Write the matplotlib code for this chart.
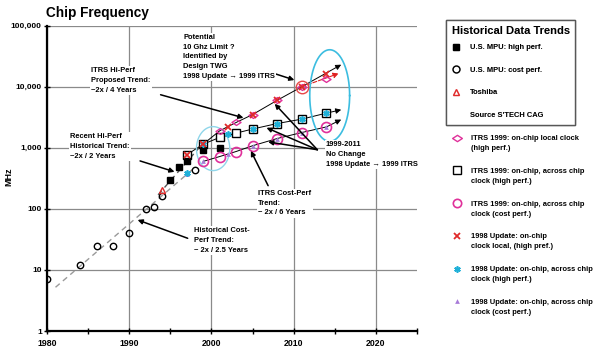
import numpy as np
import matplotlib
matplotlib.use("Agg")
import matplotlib.pyplot as plt
from matplotlib.lines import Line2D
from matplotlib.path import Path

plt.rcParams['font.family'] = ['Liberation Sans', 'DejaVu Sans']
plt.rcParams['font.weight'] = 'bold'

# ---------------- data ----------------
hist_high_year = [1995, 1996, 1997, 1999, 2001]
hist_high_mhz = [300, 490, 610, 930, 1000]
hist_cost_year = [1980, 1984, 1986, 1988, 1990, 1992, 1993, 1994, 1998]
hist_cost_mhz = [7, 12, 25, 25, 40, 99, 108, 165, 440]
toshiba_year = [1994]
toshiba_mhz = [200]

itrs_local_year = [2001, 2003, 2005, 2008, 2011, 2014]
itrs_local_mhz = [1900, 2600, 3500, 6000, 10000, 13400]
itrs_high_year = [1997, 1999, 2001, 2003, 2005, 2008, 2011, 2014]
itrs_high_mhz = [770, 1150, 1480, 1740, 2030, 2500, 2950, 3700]
itrs_cost_year = [1999, 2001, 2003, 2005, 2008, 2011, 2014]
itrs_cost_mhz = [600, 720, 870, 1080, 1420, 1780, 2200]

upd_local_year = [1997, 1999, 2002, 2005, 2008, 2011, 2014]
upd_local_mhz = [770, 1150, 2200, 3500, 6000, 10000, 16000]
upd_high_year = [1997, 1999, 2002, 2005, 2008, 2011, 2014]
upd_high_mhz = [390, 1150, 1670, 2030, 2500, 2950, 3700]
upd_cost_year = [1997, 1999, 2002, 2005, 2008, 2011, 2014]
upd_cost_mhz = [370, 600, 800, 1080, 1420, 1780, 2200]

# trend lines
hist_cost_trend_year = [1981, 1998]
hist_cost_trend_mhz = [5.2, 480]
hist_high_trend_year = [1993.5, 1999]
hist_high_trend_mhz = [170, 1200]
local_line_year = [1997, 1999, 2001, 2003, 2005, 2008, 2011]
local_line_mhz = [770, 1150, 1900, 2600, 3500, 6000, 10000]
local_arrow_end = (2015.8, 23000)
upd_local_arrow_end = (2015.5, 16500)
high_arrow_end = (2015.8, 4200)
cost_arrow_end = (2015.8, 2900)
limit_point = (2011, 10000)

x_ticks = [1980, 1990, 2000, 2010, 2020]
x_minor = [1985, 1995, 2005, 2015, 2025]
y_ticks = [1, 10, 100, 1000, 10000, 100000]
y_labels = ['1', '10', '100', '1,000', '10,000', '100,000']

# ---------------- figure ----------------
W, H = 600, 352
fig = plt.figure(figsize=(6.0, 3.52), dpi=100)
fig.patch.set_facecolor('white')
ax = fig.add_axes([47.3 / W, 1 - 331 / H, (416.7 - 47.3) / W, (331 - 25.7) / H])
ax.set_yscale('log')
ax.set_xlim(1980, 2025)
ax.set_ylim(1, 100000)
ax.set_xticks(x_ticks)
ax.set_xticklabels([str(t) for t in x_ticks], fontsize=6.3, fontweight='bold')
ax.set_xticks(x_minor, minor=True)
ax.set_yticks(y_ticks)
ax.set_yticklabels(y_labels, fontsize=6, fontweight='bold')
ax.yaxis.set_minor_locator(matplotlib.ticker.NullLocator())
ax.tick_params(axis='both', which='both', direction='inout', length=5, width=1, color='black', pad=3)
ax.tick_params(axis='y', pad=1.5)
ax.grid(True, which='major', color='#8a8a8a', lw=0.9)
for s in ['top', 'right']:
    ax.spines[s].set_visible(False)
for s in ['left', 'bottom']:
    ax.spines[s].set_linewidth(1.6)
ax.set_axisbelow(True)

fig.text(9 / W, 1 - 177 / H, 'MHz', fontsize=6.5, fontweight='bold', rotation=90, ha='center', va='center')
fig.text(46 / W, 1 - 13 / H, 'Chip Frequency', fontsize=9.8, fontweight='bold', va='center', ha='left')

# trend lines
ax.plot(hist_cost_trend_year, hist_cost_trend_mhz, color='#9a9a9a', lw=1, ls=(0, (4, 3)), zorder=2)
ax.plot(hist_high_trend_year, hist_high_trend_mhz, color='#555555', lw=1, ls=(0, (4, 3)), zorder=2)
ax.plot(local_line_year, local_line_mhz, color='black', lw=0.7, zorder=2)
ax.plot(itrs_high_year[1:], itrs_high_mhz[1:], color='black', lw=0.7, zorder=2)
ax.plot(itrs_cost_year, itrs_cost_mhz, color='black', lw=0.7, zorder=2)
ap = dict(arrowstyle='-|>', color='black', lw=0.7, mutation_scale=8, shrinkA=0, shrinkB=0)
ax.annotate('', xy=local_arrow_end, xytext=limit_point, arrowprops=ap, zorder=2)
ax.annotate('', xy=upd_local_arrow_end, xytext=limit_point,
            arrowprops=dict(arrowstyle='-|>', color='#e02020', lw=0.8, ls='--', mutation_scale=8,
                            shrinkA=0, shrinkB=0), zorder=2)
ax.annotate('', xy=high_arrow_end, xytext=(itrs_high_year[-1], itrs_high_mhz[-1]), arrowprops=ap)
ax.annotate('', xy=cost_arrow_end, xytext=(itrs_cost_year[-1], itrs_cost_mhz[-1]), arrowprops=ap)

# ellipses (in year / log10 space)
t = np.linspace(0, 2 * np.pi, 200)
ax.plot(2014.4 + 2.43 * np.cos(t), 10 ** (3.856 + 0.75 * np.sin(t)), color='#3cbde0', lw=1.2, zorder=3)
ax.plot(2000.2 + 2.03 * np.cos(t), 10 ** (2.987 + 0.36 * np.sin(t)), color='#8fd6ea', lw=1.0, zorder=3)

# markers
diamond = Path([(-1, 0), (0, 0.65), (1, 0), (0, -0.65), (-1, 0)],
               [Path.MOVETO, Path.LINETO, Path.LINETO, Path.LINETO, Path.CLOSEPOLY])
PINK = '#e0309a'
RED = '#e02a2a'
CYAN = '#1fb0d8'
PURP = '#a77ad8'

st_hist_high = dict(marker='s', ls='none', color='black', ms=3.8)
st_hist_cost = dict(marker='o', ls='none', mfc='none', mec='black', ms=4.6, mew=1.0)
st_tosh = dict(marker='^', ls='none', mfc='none', mec=RED, ms=4.8, mew=1.0)
st_local = dict(marker=diamond, ls='none', mfc='none', mec=PINK, ms=6.5, mew=1.0)
st_high = dict(marker='s', ls='none', mfc='white', mec='black', ms=6.2, mew=1.0)
st_cost = dict(marker='o', ls='none', mfc='none', mec=PINK, ms=7.2, mew=1.2)
st_ulocal = dict(marker='x', ls='none', color=RED, ms=3.8, mew=1.3)
st_uhigh = dict(marker=(6, 2, 0), ls='none', color=CYAN, ms=4.6, mew=1.2)
st_ucost = dict(marker='^', ls='none', color=PURP, ms=3.4, mew=0)

ax.plot(hist_cost_year, hist_cost_mhz, zorder=4, **st_hist_cost)
ax.plot(itrs_high_year, itrs_high_mhz, zorder=4, **st_high)
ax.plot(hist_high_year, hist_high_mhz, zorder=5, **st_hist_high)
ax.plot(toshiba_year, toshiba_mhz, zorder=5, **st_tosh)
ax.plot(itrs_cost_year, itrs_cost_mhz, zorder=5, **st_cost)
ax.plot(itrs_local_year, itrs_local_mhz, zorder=5, **st_local)
ax.plot(upd_cost_year, upd_cost_mhz, zorder=6, **st_ucost)
ax.plot(upd_high_year, upd_high_mhz, zorder=6, **st_uhigh)
ax.plot(upd_local_year, upd_local_mhz, zorder=6, **st_ulocal)
ax.plot([limit_point[0]], [limit_point[1]], marker='o', ms=9, mfc='none', mec='#e84848', mew=1.0, zorder=7)

# annotations
FS = 5.4
bb = dict(facecolor='white', edgecolor='none', pad=1.0)


def ftext(x, y, s):
    fig.text(x / W, 1 - y / H, s, fontsize=FS, fontweight='bold', ha='left', va='top',
             linespacing=1.55, bbox=bb, zorder=10)


ftext(91, 67, 'ITRS Hi-Perf\nProposed Trend:\n~2x / 4 Years')
ftext(183, 34, 'Potential\n10 Ghz Limit ?\nIdentified by\nDesign TWG\n1998 Update \u2192 1999 ITRS')
ftext(70, 133, 'Recent Hi-Perf\nHistorical Trend:\n~2x / 2 Years')
ftext(194, 227, 'Historical Cost-\nPerf Trend:\n~ 2x / 2.5 Years')
ftext(258, 190, 'ITRS Cost-Perf\nTrend:\n~ 2x / 6 Years')
ftext(326, 141, '1999-2011\nNo Change\n1998 Update \u2192 1999 ITRS')

arr = dict(arrowstyle='-|>', color='black', lw=1.1, mutation_scale=7, shrinkA=0, shrinkB=0)
ax.annotate('', xy=(2003.9, 3100), xytext=(1993.8, 7400), arrowprops=arr, zorder=8)
ax.annotate('', xy=(2010.1, 12900), xytext=(2006.6, 18300), arrowprops=arr, zorder=8)
ax.annotate('', xy=(1995.5, 405), xytext=(1991.3, 610), arrowprops=arr, zorder=8)
ax.annotate('', xy=(1991.0, 66), xytext=(1997.1, 33), arrowprops=arr, zorder=8)
ax.annotate('', xy=(2004.8, 890), xytext=(2006.9, 240), arrowprops=arr, zorder=8)
for tgt in [(2007.7, 5260), (2006.7, 2130), (2006.9, 1250)]:
    ax.annotate('', xy=tgt, xytext=(2012.9, 930), arrowprops=arr, zorder=8)

# legends
h1 = [Line2D([], [], **dict(st_hist_high, ms=4.5)), Line2D([], [], **dict(st_hist_cost, ms=5)),
      Line2D([], [], **st_tosh), Line2D([], [], ls='none')]
l1 = ['U.S. MPU: high perf.', 'U.S. MPU: cost perf.', 'Toshiba', "Source S'TECH CAG"]
leg1 = fig.legend(h1, l1, loc='upper left', bbox_to_anchor=(446 / W, 1 - 20 / H),
                  title='Historical Data Trends', title_fontproperties={'weight': 'bold', 'size': 8},
                  prop={'weight': 'bold', 'size': FS}, frameon=True, fancybox=False,
                  edgecolor='#444444', borderpad=0.75, labelspacing=2.05, handlelength=1.2,
                  handletextpad=1.3, alignment='left', borderaxespad=0)
leg1.get_frame().set_linewidth(1.0)
leg1._legend_box.sep = 6.0
fig.add_artist(leg1)

h2 = [Line2D([], [], **dict(st_local, ms=7)), Line2D([], [], **dict(st_high, ms=5.5)),
      Line2D([], [], **dict(st_cost, ms=6)), Line2D([], [], **st_ulocal),
      Line2D([], [], **st_uhigh), Line2D([], [], **st_ucost)]
l2 = ['ITRS 1999: on-chip local clock\n(high perf.)',
      'ITRS 1999: on-chip, across chip\nclock (high perf.)',
      'ITRS 1999: on-chip, across chip\nclock (cost perf.)',
      '1998 Update: on-chip\nclock local, (high pref.)',
      '1998 Update: on-chip, across chip\nclock (high perf.)',
      '1998 Update: on-chip, across chip\nclock (cost perf.)']
leg2 = fig.legend(h2, l2, loc='upper left', bbox_to_anchor=(446 / W, 1 - 129 / H),
                  prop={'weight': 'bold', 'size': FS}, frameon=False,
                  borderpad=0.8, labelspacing=2.1, handlelength=1.2, handletextpad=1.3,
                  borderaxespad=0)
for t_ in leg2.get_texts():
    t_.set_linespacing(1.6)
for col in leg2._legend_handle_box.get_children():
    for row in col.get_children():
        row.align = 'top'

fig.savefig('out.png', dpi=100, facecolor='white')
